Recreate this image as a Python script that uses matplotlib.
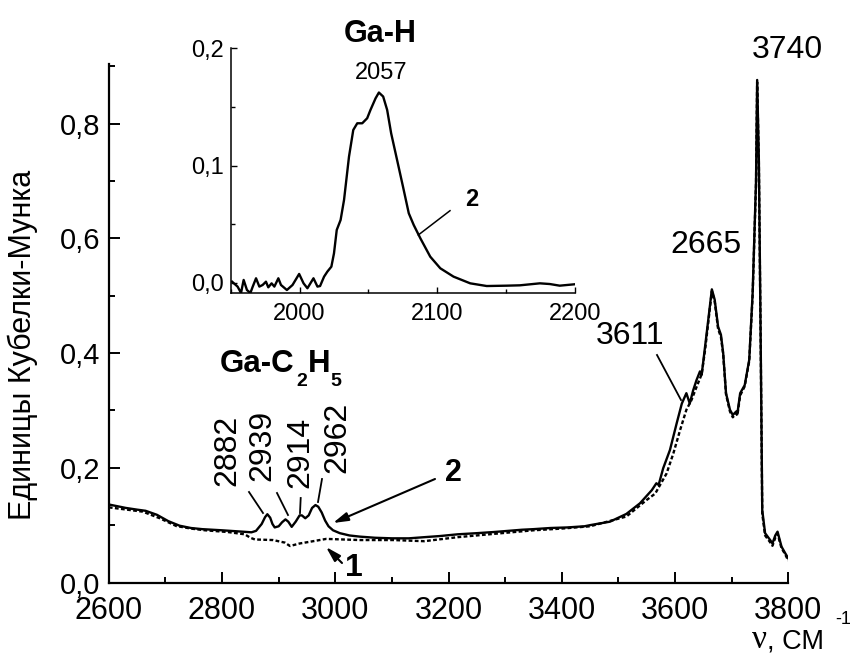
import numpy as np
import matplotlib
matplotlib.use("Agg")
import matplotlib.pyplot as plt
from matplotlib.ticker import MultipleLocator, FuncFormatter

W, H = 853, 669
plt.rcParams['font.family'] = ['Liberation Sans', 'DejaVu Sans']

# ---------------- data ----------------
wn2 = [2600, 2630, 2650, 2665, 2685, 2705, 2725, 2745, 2765, 2800, 2830, 2852,
       2860, 2870, 2876, 2880, 2885, 2889, 2893, 2900, 2906, 2912, 2917, 2923,
       2930, 2937, 2941, 2947, 2953, 2959, 2965, 2970, 2976, 2982, 2988, 2996,
       3008, 3025, 3043, 3070, 3100, 3130, 3157, 3185, 3216, 3250, 3280, 3305,
       3330, 3350, 3380, 3410, 3440, 3450, 3485, 3514, 3538, 3559, 3567, 3571,
       3579, 3591, 3603, 3612, 3620, 3626, 3632, 3638, 3644, 3647, 3653, 3660,
       3665, 3670, 3676, 3681, 3685, 3690, 3697, 3702, 3708, 3710, 3715, 3723,
       3731, 3737, 3743, 3745, 3748, 3751, 3754, 3759, 3768, 3772, 3777, 3781,
       3788, 3794, 3800]
ab2 = [0.136, 0.130, 0.127, 0.125, 0.118, 0.107, 0.099, 0.095, 0.093, 0.091, 0.089, 0.0875,
       0.090, 0.102, 0.114, 0.119, 0.113, 0.102, 0.096, 0.098, 0.105, 0.110, 0.106, 0.097,
       0.106, 0.117, 0.117, 0.112, 0.117, 0.130, 0.135, 0.132, 0.122, 0.108, 0.098, 0.091,
       0.086, 0.082, 0.080, 0.078, 0.077, 0.077, 0.079, 0.081, 0.084, 0.086, 0.088, 0.090,
       0.092, 0.093, 0.095, 0.096, 0.098, 0.100, 0.106, 0.1195, 0.138, 0.161, 0.173, 0.170,
       0.199, 0.231, 0.278, 0.312, 0.330, 0.312, 0.335, 0.353, 0.368, 0.362, 0.411, 0.469,
       0.511, 0.493, 0.446, 0.432, 0.400, 0.330, 0.301, 0.292, 0.298, 0.294, 0.330, 0.344,
       0.388, 0.504, 0.700, 0.876, 0.737, 0.446, 0.126, 0.086, 0.074, 0.068, 0.082, 0.0886,
       0.0625, 0.052, 0.042]

wn1 = [2600, 2640, 2660, 2690, 2719, 2745, 2770, 2810, 2840, 2850, 2858, 2890,
       2911, 2920, 2937, 2955, 2984, 3043, 3102, 3157, 3216, 3305, 3350, 3400,
       3450, 3514, 3550, 3565, 3585, 3597, 3609, 3620, 3629, 3638, 3647, 3653,
       3660, 3665, 3670, 3676, 3681, 3685, 3690, 3697, 3702, 3708, 3710, 3715,
       3723, 3731, 3737, 3743, 3745, 3748, 3751, 3754, 3759, 3768, 3772, 3777,
       3781, 3788, 3794, 3800]
ab1 = [0.131, 0.126, 0.1235, 0.112, 0.0985, 0.094, 0.091, 0.088, 0.084, 0.078, 0.075, 0.074,
       0.0695, 0.0636, 0.068, 0.071, 0.076, 0.074, 0.074, 0.072, 0.079, 0.087, 0.091, 0.094,
       0.098, 0.115, 0.144, 0.155, 0.190, 0.225, 0.266, 0.301, 0.318, 0.341, 0.363, 0.405,
       0.465, 0.508, 0.490, 0.442, 0.428, 0.398, 0.328, 0.298, 0.288, 0.295, 0.291, 0.326,
       0.342, 0.386, 0.500, 0.695, 0.872, 0.733, 0.440, 0.120, 0.082, 0.070, 0.064, 0.078, 0.085,
       0.060, 0.050, 0.038]

wn_in = [1951, 1955, 1957.5, 1959.4, 1961.8, 1964.3, 1966, 1968.4, 1970.8, 1973.2, 1975.6,
         1977.3, 1979.7, 1981.7, 1984.6, 1986.5, 1990.8, 1994.9, 1999.7, 2002.9, 2005.7,
         2010.1, 2013, 2014.9, 2017.8, 2020.2, 2023.1, 2025, 2027, 2029.8, 2032.3, 2035.9,
         2039, 2041.9, 2045.5, 2049.1, 2051.5, 2055.2, 2057.6, 2060.7, 2063.6, 2066.5,
         2070.8, 2075.1, 2079.3, 2082.9, 2087.7, 2094.9, 2102.2, 2111.8, 2123.9, 2135.9,
         2150.4, 2160, 2174.5, 2181.7, 2188.9, 2199.8]
ab_in = [0.0011, -0.0031, -0.0085, 0.0026, -0.006, -0.0085, -0.0031, 0.004, -0.0031, -0.0017,
         0.0011, -0.0037, -0.0003, -0.0031, 0.004, -0.0017, -0.006, -0.0017, 0.0077, -0.0003,
         -0.0045, 0.004, -0.0031, -0.0026, 0.0054, 0.0097, 0.0139, 0.0253, 0.0452, 0.0537,
         0.0708, 0.1077, 0.1304, 0.1361, 0.1361, 0.1404, 0.1475, 0.1574, 0.1623, 0.1589,
         0.1475, 0.1276, 0.1049, 0.0821, 0.0594, 0.0494, 0.0381, 0.0224, 0.0125, 0.0054,
         -0.0003, -0.0026, -0.0023, -0.0020, -0.0003, -0.0009, -0.0023, -0.0011]

# ---------------- figure ----------------
fig = plt.figure(figsize=(W / 100, H / 100), dpi=100)

def fx(x):
    return x / W

def fy(y):
    return 1 - y / H

comma = FuncFormatter(lambda v, p: f"{v:.1f}".replace('.', ','))

AX_L, AX_R, AX_B, AX_T = 108.8, 788.3, 582.5, 63.9
ax = fig.add_axes([fx(AX_L), fy(AX_B), (AX_R - AX_L) / W, (AX_B - AX_T) / H])
ax.plot(wn1, ab1, color='black', lw=1.7, ls=(0, (1.6, 1.0)))
ax.plot(wn2, ab2, color='black', lw=1.7)
ax.set_xlim(2600, 3800)
ax.set_ylim(0, 0.904)
for s in ['top', 'right']:
    ax.spines[s].set_visible(False)
for s in ['left', 'bottom']:
    ax.spines[s].set_linewidth(1.6)
ax.xaxis.set_major_locator(MultipleLocator(200))
ax.xaxis.set_minor_locator(MultipleLocator(100))
ax.yaxis.set_major_locator(MultipleLocator(0.2))
ax.yaxis.set_minor_locator(MultipleLocator(0.1))
ax.yaxis.set_major_formatter(comma)
ax.tick_params(which='both', direction='in', width=1.4)
ax.tick_params(which='major', length=8)
ax.tick_params(which='minor', length=4.5)
ax.tick_params(axis='x', which='major', labelsize=22, pad=10)
ax.tick_params(axis='y', which='major', labelsize=21, pad=6)
for t in ax.get_yticklabels():
    t.set_verticalalignment('center_baseline')
ax.set_ylabel('Единицы Кубелки-Мунка', fontsize=22)
ax.yaxis.set_label_coords((38 - AX_L) / (AX_R - AX_L), (AX_B - 345) / (AX_B - AX_T))

# inset
IN_L, IN_R, IN_B, IN_T = 230.7, 575.0, 293.3, 48.3
axi = fig.add_axes([fx(IN_L), fy(IN_B), (IN_R - IN_L) / W, (IN_B - IN_T) / H])
axi.plot(wn_in, ab_in, color='black', lw=1.7)
axi.set_xlim(1950, 2200)
axi.set_ylim(-0.0088, 0.2)
for s in ['top', 'right']:
    axi.spines[s].set_visible(False)
for s in ['left', 'bottom']:
    axi.spines[s].set_linewidth(1.1)
axi.xaxis.set_major_locator(MultipleLocator(100))
axi.xaxis.set_minor_locator(MultipleLocator(50))
axi.yaxis.set_major_locator(MultipleLocator(0.1))
axi.yaxis.set_minor_locator(MultipleLocator(0.05))
axi.yaxis.set_major_formatter(comma)
axi.tick_params(which='both', direction='in', width=1.0)
axi.tick_params(which='major', length=4)
axi.tick_params(which='minor', length=3)
axi.tick_params(axis='x', which='major', labelsize=17, pad=7)
axi.tick_params(axis='y', which='major', labelsize=17, pad=5)

# ---------------- annotations (pixel placement) ----------------
def ptxt(x, y, s, **kw):
    fig.text(fx(x), fy(y), s, **kw)

def pline(x0, y0, x1, y1, lw=1.3):
    fig.add_artist(plt.Line2D([fx(x0), fx(x1)], [fy(y0), fy(y1)], color='black', lw=lw,
                              transform=fig.transFigure))

def parrow(x0, y0, x1, y1):
    fig.add_artist(matplotlib.patches.FancyArrowPatch(
        (fx(x0), fy(y0)), (fx(x1), fy(y1)), transform=fig.transFigure,
        arrowstyle='-|>,head_length=9,head_width=2.6', color='black', lw=1.5,
        shrinkA=0, shrinkB=0, mutation_scale=1))

ptxt(787, 50, '3740', fontsize=23, ha='center', va='center')
ptxt(706, 245, '2665', fontsize=23, ha='center', va='center')
ptxt(630, 336, '3611', fontsize=23, ha='center', va='center')
pline(657, 355, 681, 400)

ptxt(380, 34, 'Ga-H', fontsize=22, fontweight='bold', ha='center', va='center')
ptxt(381, 73, '2057', fontsize=17, ha='center', va='center')
ptxt(472, 200, '2', fontsize=17, fontweight='bold', ha='center', va='center')
pline(450, 210.7, 418.3, 235, lw=1.1)

# Ga-C2H5
ptxt(220, 372, 'Ga-C', fontsize=22.5, fontweight='bold', ha='left', va='baseline')
ptxt(296, 386, '2', fontsize=14, fontweight='bold', ha='left', va='baseline')
ptxt(308, 372, 'H', fontsize=22.5, fontweight='bold', ha='left', va='baseline')
ptxt(330, 386, '5', fontsize=14, fontweight='bold', ha='left', va='baseline')

for lab, cx, cy in [('2882', 227.5, 450), ('2939', 262.5, 445),
                    ('2914', 300, 452.5), ('2962', 337.5, 437.5)]:
    ptxt(cx, cy, lab, fontsize=23, rotation=90, ha='center', va='center')
pline(249, 492, 263, 513)
pline(277, 493, 288, 515)
pline(300.7, 498, 300, 513)
pline(322, 479, 318, 502)

ptxt(453, 473, '2', fontsize=22, fontweight='bold', ha='center', va='center')
parrow(435, 479, 333, 523)
ptxt(354, 568, '1', fontsize=23, fontweight='bold', ha='center', va='center')
parrow(342, 563, 326, 547)

# axis unit label
ptxt(752, 648, 'ν', fontsize=24, family=['Liberation Serif', 'DejaVu Serif'], ha='left', va='baseline')
ptxt(767, 648, ', СМ', fontsize=19.5, ha='left', va='baseline')
ptxt(835, 624, '-1', fontsize=13, ha='left', va='baseline')

fig.savefig('out.png', dpi=100)
